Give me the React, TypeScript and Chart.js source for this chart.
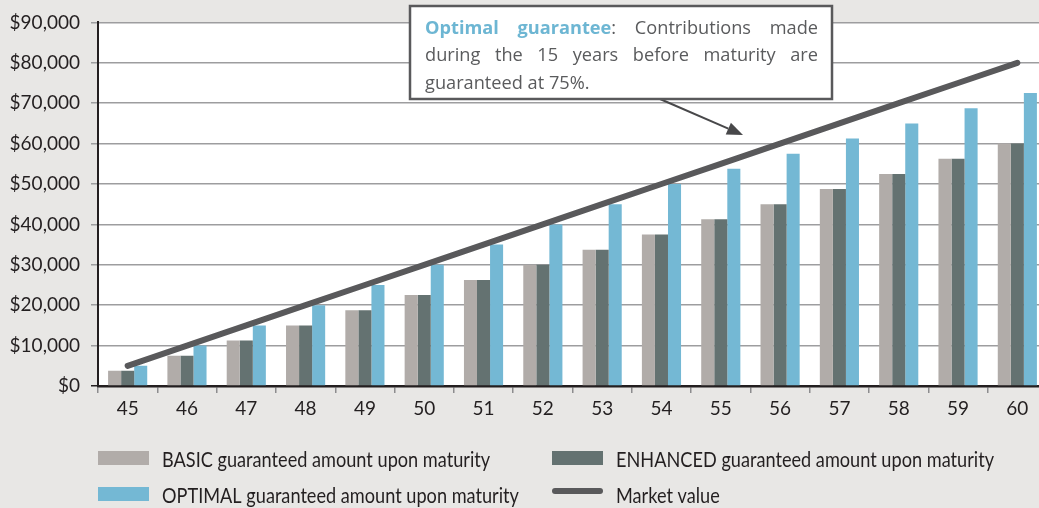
import { useEffect, useRef } from 'react';
import { Chart, registerables } from 'chart.js';

Chart.register(...registerables);

const categories = ['45', '46', '47', '48', '49', '50', '51', '52', '53', '54', '55', '56', '57', '58', '59', '60'];
const basicValues = [3750, 7500, 11250, 15000, 18750, 22500, 26250, 30000, 33750, 37500, 41250, 45000, 48750, 52500, 56250, 60000];
const enhancedValues = [3750, 7500, 11250, 15000, 18750, 22500, 26250, 30000, 33750, 37500, 41250, 45000, 48750, 52500, 56250, 60000];
const optimalValues = [5000, 10000, 15000, 20000, 25000, 30000, 35000, 40000, 45000, 50000, 53750, 57500, 61250, 65000, 68750, 72500];
const marketValues = [5000, 10000, 15000, 20000, 25000, 30000, 35000, 40000, 45000, 50000, 55000, 60000, 65000, 70000, 75000, 80000];

const seriesLabels = [
  'BASIC guaranteed amount upon maturity',
  'ENHANCED guaranteed amount upon maturity',
  'OPTIMAL guaranteed amount upon maturity',
  'Market value',
];
const annotationLines = [
  '*Optimal guarantee*: Contributions made',
  'during the 15 years before maturity are',
  'guaranteed at 75%.',
];

const BG = '#e8e7e5';
const C_BASIC = '#b1aca9';
const C_ENH = '#647271';
const C_OPT = '#74b8d4';
const C_LINE = '#59595b';
const TEXT = '#231f20';
const FONT = 'Lato';
const NOTE_FONT = '"Open Sans"';

type Run = { t: string; b: boolean };
function parseLine(s: string): Run[][] {
  const words: Run[][] = [];
  let bold = false;
  let cur: Run[] = [];
  let buf = '';
  const flush = () => {
    if (buf) {
      cur.push({ t: buf, b: bold });
      buf = '';
    }
  };
  for (const ch of s) {
    if (ch === '*') {
      flush();
      bold = !bold;
    } else if (ch === ' ') {
      flush();
      if (cur.length) {
        words.push(cur);
        cur = [];
      }
    } else buf += ch;
  }
  flush();
  if (cur.length) words.push(cur);
  return words;
}

const bgPlugin = {
  id: 'bgPlugin',
  beforeDraw(chart: any) {
    const { ctx, chartArea } = chart;
    ctx.save();
    ctx.fillStyle = BG;
    ctx.fillRect(0, 0, chart.width, chart.height);
    ctx.fillStyle = '#ffffff';
    ctx.fillRect(chartArea.left, chartArea.top, chartArea.right - chartArea.left, chartArea.bottom - chartArea.top);
    ctx.restore();
  },
};

const overlayPlugin = {
  id: 'overlayPlugin',
  afterDraw(chart: any) {
    const ctx: CanvasRenderingContext2D = chart.ctx;
    ctx.save();
    // annotation arrow
    const ax0 = 660, ay0 = 99, ax1 = 743, ay1 = 135;
    const ang = Math.atan2(ay1 - ay0, ax1 - ax0);
    const hl = 16, hw = 6.5;
    const bx = ax1 - hl * Math.cos(ang), by = ay1 - hl * Math.sin(ang);
    ctx.strokeStyle = '#48484a';
    ctx.lineWidth = 2;
    ctx.beginPath();
    ctx.moveTo(ax0, ay0);
    ctx.lineTo(bx, by);
    ctx.stroke();
    ctx.fillStyle = '#48484a';
    ctx.beginPath();
    ctx.moveTo(ax1, ay1);
    ctx.lineTo(bx + hw * Math.sin(ang), by - hw * Math.cos(ang));
    ctx.lineTo(bx - hw * Math.sin(ang), by + hw * Math.cos(ang));
    ctx.closePath();
    ctx.fill();

    // annotation box
    const x0 = 410, y0 = 6, x1 = 832, y1 = 99;
    ctx.fillStyle = '#ffffff';
    ctx.fillRect(x0, y0, x1 - x0, y1 - y0);
    ctx.strokeStyle = '#59595b';
    ctx.lineWidth = 2.5;
    ctx.strokeRect(x0, y0, x1 - x0, y1 - y0);

    const tl = 425, tr = 818;
    const fs = 18.2;
    ctx.textBaseline = 'alphabetic';
    ctx.textAlign = 'left';
    annotationLines.forEach((line, li) => {
      const words = parseLine(line);
      const widths = words.map((w) =>
        w.reduce((acc, r) => {
          ctx.font = `${r.b ? 'bold ' : ''}${fs}px ${NOTE_FONT}`;
          return acc + ctx.measureText(r.t).width;
        }, 0)
      );
      const total = widths.reduce((a, b) => a + b, 0);
      ctx.font = `${fs}px ${NOTE_FONT}`;
      const justify = li < annotationLines.length - 1;
      const gap = justify ? (tr - tl - total) / (words.length - 1) : ctx.measureText(' ').width;
      let x = tl;
      const y = 33.5 + li * 27.5;
      words.forEach((w) => {
        w.forEach((r) => {
          ctx.font = `${r.b ? 'bold ' : ''}${fs}px ${NOTE_FONT}`;
          ctx.fillStyle = r.b ? '#6db6d3' : '#5a5b5d';
          ctx.fillText(r.t, x, y);
          x += ctx.measureText(r.t).width;
        });
        x += gap;
      });
    });

    // legend
    const datasets = chart.data.datasets;
    const colX = [98, 552];
    const swatchTop = [451, 487];
    const baseline = [467.3, 503.3];
    ctx.font = `20.4px ${FONT}`;
    ctx.textBaseline = 'alphabetic';
    datasets.forEach((ds: any) => {
      const idx = seriesLabels.indexOf(ds.label);
      const col = idx % 2;
      const row = Math.floor(idx / 2);
      const sx = colX[col];
      if (ds.type === 'line') {
        ctx.strokeStyle = ds.borderColor;
        ctx.lineWidth = 6;
        ctx.lineCap = 'round';
        ctx.beginPath();
        ctx.moveTo(sx + 3, 491);
        ctx.lineTo(sx + 48, 491);
        ctx.stroke();
      } else {
        ctx.fillStyle = ds.backgroundColor;
        ctx.fillRect(sx, swatchTop[row], 51, 14);
      }
      ctx.fillStyle = TEXT;
      ctx.save();
      ctx.translate(sx + 64, baseline[row]);
      ctx.scale(0.89, 1);
      ctx.fillText(ds.label, 0, 0);
      ctx.restore();
    });
    ctx.restore();
  },
};

export default function App() {
  const ref = useRef<HTMLCanvasElement | null>(null);
  useEffect(() => {
    document.body.style.margin = '0';
    document.body.style.overflow = 'hidden';
    document.body.style.background = BG;
    const canvas = ref.current;
    if (!canvas) return;
    const chart = new Chart(canvas, {
      type: 'bar',
      data: {
        labels: categories,
        datasets: [
          {
            type: 'line',
            label: seriesLabels[3],
            data: marketValues,
            borderColor: C_LINE,
            backgroundColor: C_LINE,
            borderWidth: 6,
            borderCapStyle: 'round',
            pointRadius: 0,
            fill: false,
            order: 0,
          } as any,
          { type: 'bar', label: seriesLabels[0], data: basicValues, backgroundColor: C_BASIC, order: 1 },
          { type: 'bar', label: seriesLabels[1], data: enhancedValues, backgroundColor: C_ENH, order: 1 },
          { type: 'bar', label: seriesLabels[2], data: optimalValues, backgroundColor: C_OPT, order: 1 },
        ],
      },
      options: {
        animation: false,
        responsive: false,
        devicePixelRatio: 1,
        datasets: { bar: { categoryPercentage: 0.66, barPercentage: 1 } },
        layout: { padding: { top: 18, right: 1, left: 0, bottom: 0 } },
        plugins: { legend: { display: false }, tooltip: { enabled: false } },
        scales: {
          x: {
            afterFit: (s: any) => {
              s.height = 122;
            },
            grid: {
              offset: true,
              drawOnChartArea: false,
              drawTicks: true,
              tickLength: 7,
              color: '#8c8c8e',
              lineWidth: 1.5,
            },
            border: { display: true, color: TEXT, width: 2.5 },
            ticks: { font: { family: FONT, size: 19 }, color: TEXT, padding: 4 },
          },
          y: {
            min: 0,
            max: 90000,
            afterFit: (s: any) => {
              s.width = 98;
            },
            grid: {
              color: (c: any) => (c.tick && c.tick.value === 0 ? TEXT : '#9d9d9f'),
              lineWidth: 1.5,
              tickLength: 7,
            },
            border: { display: true, color: TEXT, width: 2 },
            ticks: {
              stepSize: 10000,
              font: { family: FONT, size: 19 },
              color: TEXT,
              padding: 11,
              callback: (v: any) => '$' + Number(v).toLocaleString('en-US'),
            },
          },
        },
      },
      plugins: [bgPlugin, overlayPlugin],
    });
    return () => chart.destroy();
  }, []);
  return (
    <div style={{ position: 'relative', width: 1039, height: 508, overflow: 'hidden', background: BG }}>
      <canvas ref={ref} width={1048} height={508} style={{ display: 'block', width: 1048, height: 508 }} />
    </div>
  );
}
